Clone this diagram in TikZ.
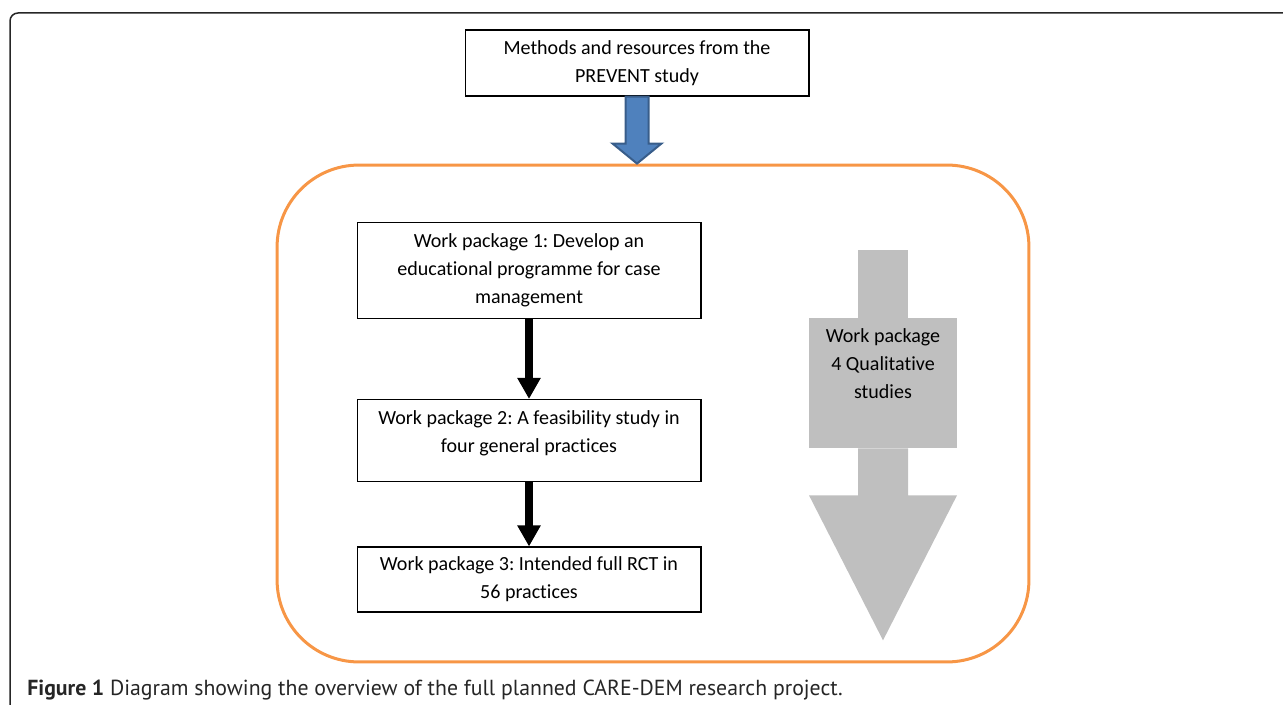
\documentclass[tikz,border=0pt]{standalone}
\usepackage{fontspec}
\setmainfont{Carlito}[Ligatures=NoCommon]
\newfontfamily\capfont{PT Sans}
\usetikzlibrary{arrows.meta,calc}
\definecolor{frameorange}{HTML}{F79646}
\definecolor{arrowblue}{HTML}{4F81BD}
\definecolor{arrowblueline}{HTML}{385D8A}
\definecolor{wpgray}{HTML}{BFBFBF}
\frenchspacing
\begin{document}
\begin{tikzpicture}[x=0.02cm, y=-0.02cm,
    every node/.style={font=\fontsize{11.4pt}{15.9pt}\selectfont},
    wpbox/.style={draw=black, line width=0.6pt, align=center, minimum width=6.88cm, inner sep=0pt},
    flow/.style={line width=0.16cm, -{Triangle[width=0.44cm,length=0.42cm]}}]
        \useasboundingbox (0,0) rectangle (1283,705);
        \draw[gray!30!black, line width=0.03cm, rounded corners=0.16cm] (10,705) -- (10,13) -- (1283,13);
        % boxes
        \node[wpbox, minimum height=1.32cm] (prevent) at (637,63) {Methods and resources from the\\PREVENT study};
        \node[draw=frameorange, line width=0.06cm, rounded corners=1.64cm,
              minimum width=15.04cm, minimum height=9.94cm] (care) at (653,413.5) {};
        \node[wpbox, minimum height=1.92cm] (wp1) at (529,270.5) {Work package 1: Develop an\\educational programme for case\\management};
        \node[wpbox, minimum height=1.64cm, text depth=10pt] (wp2) at (529,440.5) {Work package 2: A feasibility study in\\four general practices};
        \node[wpbox, minimum height=1.3cm] (wp3) at (529,579.5) {Work package 3: Intended full RCT in\\56 practices};
        \node[fill=wpgray, minimum width=2.96cm, minimum height=2.6cm, text depth=22pt, align=center, inner sep=0pt]
              (wp4) at (883,383) {Work package\\4 Qualitative\\studies};
        % arrows
        \draw[fill=arrowblue, draw=arrowblueline, line width=0.04cm]
              ($(prevent.south)+(-11.5,0)$) -- ++(0,47) -- ++(-13,0) -- (prevent.south |- care.north)
              -- ($(prevent.south)+(24.5,47)$) -- ++(-13,0) -- ($(prevent.south)+(11.5,0)$) -- cycle;
        \draw[flow] (wp1.south) -- (wp2.north);
        \draw[flow] (wp2.south) -- (wp3.north);
        \fill[wpgray] ($(wp4.north)+(-25,0)$) rectangle ($(wp4.north)+(25,-68)$);
        \fill[wpgray] ($(wp4.south)+(-25,0)$) -- ++(0,47) -- ++(-49,0) -- ($(wp4.south)+(0,192)$)
              -- ($(wp4.south)+(74,47)$) -- ++(-49,0) -- ($(wp4.south)+(25,0)$) -- cycle;
        % caption
        \node[anchor=base west, inner sep=0pt, font=\capfont\fontsize{12.4pt}{14pt}\selectfont, text=black!85]
              (caption) at (27,695) {\textbf{Figure 1} Diagram showing the overview of the full planned CARE-DEM research project.};
    \end{tikzpicture}
\end{document}
